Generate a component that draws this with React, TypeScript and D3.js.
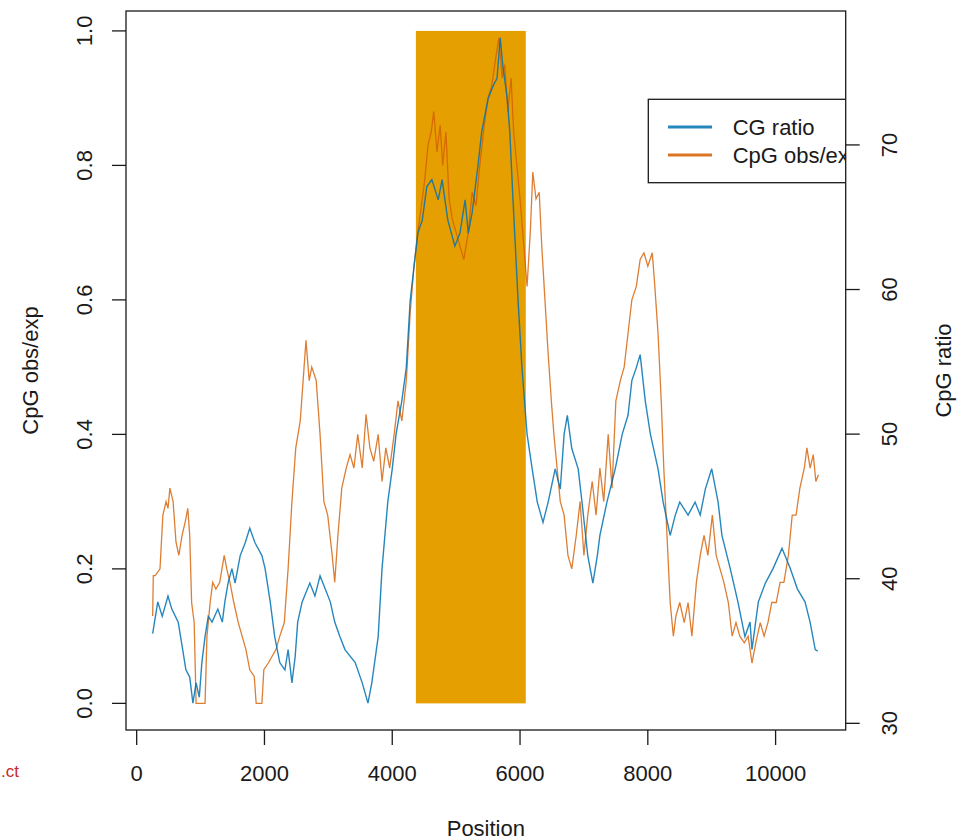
import React from 'react'
import * as d3 from 'd3'

// CG ratio (blue, right axis)
const cgPos = [250, 330, 400, 490, 550, 650, 720, 770, 830, 880, 930, 980, 1020, 1070, 1120, 1180, 1270, 1340, 1380, 1430, 1490, 1540, 1620, 1700, 1770, 1850, 1960, 2010, 2090, 2160, 2240, 2320, 2370, 2430, 2480, 2520, 2590, 2710, 2790, 2870, 2950, 3030, 3100, 3180, 3260, 3420, 3530, 3620, 3680, 3780, 3840, 3930, 4000, 4060, 4150, 4220, 4280, 4400, 4470, 4540, 4620, 4720, 4780, 4870, 4980, 5060, 5140, 5190, 5250, 5340, 5400, 5500, 5580, 5640, 5690, 5730, 5800, 5840, 5890, 5970, 6030, 6110, 6190, 6270, 6360, 6440, 6550, 6630, 6690, 6740, 6810, 6910, 6970, 7060, 7140, 7210, 7250, 7360, 7490, 7600, 7690, 7750, 7820, 7880, 7960, 8040, 8160, 8240, 8350, 8430, 8500, 8630, 8740, 8820, 8900, 9000, 9100, 9160, 9290, 9410, 9520, 9600, 9630, 9730, 9840, 9960, 10100, 10230, 10340, 10460, 10540, 10620, 10660]
const cgRatio = [36.2, 38.4, 37.4, 38.8, 37.9, 37.0, 35.1, 33.7, 33.2, 31.4, 32.8, 31.8, 34.2, 36.0, 37.4, 37.0, 37.9, 37.0, 38.4, 39.7, 40.7, 39.7, 41.6, 42.5, 43.5, 42.5, 41.6, 40.7, 38.4, 36.0, 34.2, 33.7, 35.1, 32.8, 34.6, 37.0, 38.4, 39.7, 38.8, 40.2, 39.3, 38.4, 37.0, 36.0, 35.1, 34.2, 32.8, 31.4, 32.8, 36.0, 40.7, 45.3, 47.6, 50.0, 52.3, 54.6, 59.2, 63.9, 64.8, 67.1, 67.6, 66.2, 67.6, 64.8, 63.0, 63.9, 66.2, 63.9, 65.3, 68.5, 70.9, 73.2, 74.1, 74.6, 77.4, 75.5, 73.2, 70.9, 66.2, 59.2, 54.6, 50.0, 47.6, 45.3, 43.9, 45.3, 47.6, 46.2, 50.0, 51.3, 49.0, 47.6, 45.3, 41.6, 39.7, 41.6, 43.0, 45.3, 47.6, 50.0, 51.3, 53.7, 54.6, 55.5, 52.3, 50.0, 47.6, 45.3, 43.0, 44.4, 45.3, 44.4, 45.3, 44.4, 46.2, 47.6, 45.3, 43.0, 40.7, 38.4, 36.0, 37.0, 35.1, 38.4, 39.7, 40.7, 42.1, 40.7, 39.3, 38.4, 37.0, 35.1, 35.0]

// CpG obs/exp (orange, left axis)
const oePos = [250, 260, 290, 365, 410, 460, 490, 520, 570, 615, 660, 710, 760, 800, 830, 860, 900, 930, 1070, 1100, 1150, 1190, 1240, 1300, 1370, 1410, 1460, 1520, 1590, 1650, 1710, 1770, 1840, 1870, 1960, 1990, 2060, 2120, 2180, 2240, 2310, 2370, 2430, 2490, 2560, 2620, 2650, 2700, 2740, 2810, 2870, 2930, 2990, 3060, 3100, 3150, 3210, 3280, 3340, 3400, 3460, 3530, 3590, 3650, 3710, 3780, 3840, 3900, 3960, 4030, 4090, 4150, 4220, 4280, 4340, 4400, 4470, 4510, 4560, 4610, 4650, 4700, 4750, 4790, 4840, 4890, 4940, 5000, 5060, 5120, 5190, 5250, 5310, 5370, 5440, 5500, 5560, 5620, 5670, 5720, 5760, 5810, 5860, 5900, 5950, 6000, 6060, 6110, 6160, 6200, 6250, 6300, 6340, 6390, 6440, 6490, 6530, 6580, 6630, 6690, 6750, 6810, 6880, 6940, 7000, 7060, 7130, 7190, 7250, 7310, 7380, 7440, 7500, 7570, 7630, 7690, 7750, 7820, 7880, 7940, 8000, 8070, 8110, 8160, 8210, 8250, 8300, 8350, 8400, 8440, 8500, 8570, 8630, 8690, 8760, 8820, 8880, 8940, 9010, 9070, 9130, 9190, 9260, 9320, 9380, 9440, 9510, 9570, 9630, 9690, 9760, 9820, 9880, 9940, 10010, 10070, 10130, 10200, 10260, 10320, 10380, 10450, 10490, 10540, 10590, 10630, 10670]
const oeVal = [0.13, 0.19, 0.19, 0.20, 0.28, 0.30, 0.29, 0.32, 0.30, 0.24, 0.22, 0.25, 0.27, 0.29, 0.25, 0.15, 0.12, 0.0, 0.0, 0.10, 0.15, 0.18, 0.17, 0.18, 0.22, 0.20, 0.18, 0.15, 0.12, 0.10, 0.08, 0.05, 0.04, 0.0, 0.0, 0.05, 0.06, 0.07, 0.08, 0.10, 0.12, 0.20, 0.30, 0.38, 0.42, 0.50, 0.54, 0.48, 0.50, 0.48, 0.40, 0.30, 0.28, 0.22, 0.18, 0.25, 0.32, 0.35, 0.37, 0.35, 0.40, 0.35, 0.43, 0.38, 0.36, 0.40, 0.33, 0.38, 0.35, 0.40, 0.45, 0.42, 0.48, 0.58, 0.65, 0.70, 0.75, 0.78, 0.83, 0.85, 0.88, 0.82, 0.86, 0.80, 0.85, 0.75, 0.72, 0.70, 0.68, 0.66, 0.70, 0.76, 0.74, 0.80, 0.86, 0.90, 0.92, 0.96, 0.99, 0.93, 0.95, 0.88, 0.93, 0.85, 0.80, 0.75, 0.68, 0.62, 0.70, 0.79, 0.75, 0.76, 0.68, 0.60, 0.52, 0.45, 0.40, 0.35, 0.30, 0.28, 0.22, 0.20, 0.25, 0.30, 0.22, 0.28, 0.33, 0.28, 0.35, 0.30, 0.40, 0.32, 0.45, 0.48, 0.50, 0.55, 0.60, 0.62, 0.66, 0.67, 0.65, 0.67, 0.62, 0.55, 0.45, 0.35, 0.25, 0.15, 0.10, 0.13, 0.15, 0.12, 0.15, 0.10, 0.18, 0.22, 0.25, 0.22, 0.28, 0.22, 0.20, 0.18, 0.15, 0.10, 0.12, 0.10, 0.09, 0.10, 0.06, 0.09, 0.12, 0.10, 0.12, 0.15, 0.15, 0.18, 0.18, 0.22, 0.28, 0.28, 0.32, 0.35, 0.38, 0.35, 0.37, 0.33, 0.34]

// CpG island region
const islandStart = 4370
const islandEnd = 6090

const xTicks = [0, 2000, 4000, 6000, 8000, 10000]
const leftTicks = [0, 0.2, 0.4, 0.6, 0.8, 1.0]
const rightTicks = [30, 40, 50, 60, 70]

const legendLabels = ['CG ratio', 'CpG obs/exp']
const blue = '#0072B2'
const orange = '#D55E00'
const gold = '#E69F00'

// R style 4% padding
function pad(lo: number, hi: number): [number, number] {
  const r = hi - lo
  return [lo - 0.04 * r, hi + 0.04 * r]
}

const W = 971
const H = 839
const L = 126, R = 845.7, T = 11, B = 730
const font = '"Liberation Sans", Arial, sans-serif'
const ink = '#1a1a1a'

export default function App() {
  const x = d3.scaleLinear().domain(pad(250, 10680)).range([L, R])
  const yL = d3.scaleLinear().domain(pad(0, 0.99)).range([B, T])
  const yR = d3.scaleLinear().domain(pad(31.38, 77.42)).range([B, T])

  const cgLine = d3.line<number>()
    .x((d, i) => x(cgPos[i]))
    .y(d => yR(d))
  const oeLine = d3.line<number>()
    .x((d, i) => x(oePos[i]))
    .y(d => yL(d))

  const cy = (T + B) / 2

  return (
    <svg width={W} height={H} style={{ position: 'absolute', left: 0, top: 0, background: '#fff' }}
      fontFamily={font} fill={ink}>
      <defs>
        <clipPath id='plotclip'>
          <rect x={L} y={T} width={R - L} height={B - T} />
        </clipPath>
      </defs>

      <rect x={x(islandStart)} y={yL(1)} width={x(islandEnd) - x(islandStart)}
        height={yL(0) - yL(1)} fill={gold} />

      <g clipPath='url(#plotclip)' fill='none'>
        <path d={oeLine(oeVal) || ''} stroke={orange} strokeWidth={1.3} strokeOpacity={0.8} />
        <path d={cgLine(cgRatio) || ''} stroke={blue} strokeWidth={1.4} strokeOpacity={0.85} />
        {/* legend, cut off by the plot box */}
        <rect x={648.3} y={99.3} width={320} height={83.4} fill='#fff' stroke={ink} strokeWidth={1.3} />
        {legendLabels.map((lab, i) => (
          <g key={lab}>
            <line x1={668} x2={712} y1={127 + i * 28} y2={127 + i * 28}
              stroke={i === 0 ? blue : orange} strokeOpacity={0.85} strokeWidth={3} />
            <text x={732.7} y={127 + i * 28} dominantBaseline='central' fontSize={22} fill={ink}>{lab}</text>
          </g>
        ))}
      </g>

      <rect x={L} y={T} width={R - L} height={B - T} fill='none' stroke={ink} strokeWidth={1.3} />

      {xTicks.map(t => (
        <g key={'x' + t}>
          <line x1={x(t)} x2={x(t)} y1={B} y2={B + 15} stroke={ink} strokeWidth={1.3} />
          <text x={x(t)} y={773} textAnchor='middle' dominantBaseline='central' fontSize={22}>{t}</text>
        </g>
      ))}
      {leftTicks.map(t => (
        <g key={'l' + t}>
          <line x1={L - 14} x2={L} y1={yL(t)} y2={yL(t)} stroke={ink} strokeWidth={1.3} />
          <text transform={`translate(84,${yL(t)}) rotate(-90)`} textAnchor='middle'
            dominantBaseline='central' fontSize={22}>{t.toFixed(1)}</text>
        </g>
      ))}
      {rightTicks.map(t => (
        <g key={'r' + t}>
          <line x1={R} x2={R + 14} y1={yR(t)} y2={yR(t)} stroke={ink} strokeWidth={1.3} />
          <text transform={`translate(889,${yR(t)}) rotate(-90)`} textAnchor='middle'
            dominantBaseline='central' fontSize={22}>{t}</text>
        </g>
      ))}

      <text x={(L + R) / 2} y={828} textAnchor='middle' dominantBaseline='central' fontSize={22}>Position</text>
      <text transform={`translate(30,${cy}) rotate(-90)`} textAnchor='middle'
        dominantBaseline='central' fontSize={22}>CpG obs/exp</text>
      <text transform={`translate(943,${cy}) rotate(-90)`} textAnchor='middle'
        dominantBaseline='central' fontSize={22}>CpG ratio</text>

      <text x={19} y={771} textAnchor='end' dominantBaseline='central' fontSize={17} fill='#c62828'>.ct</text>
    </svg>
  )
}
